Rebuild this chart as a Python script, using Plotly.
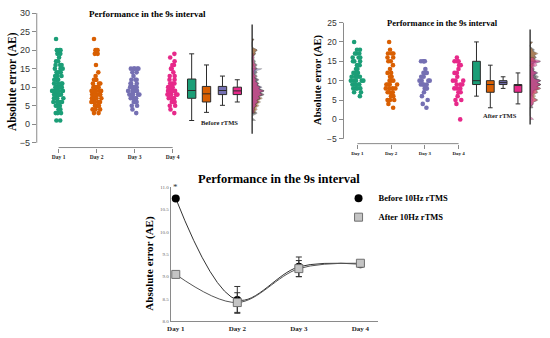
import plotly.graph_objects as go

W, H = 550, 338

days = ["Day 1", "Day 2", "Day 3", "Day 4"]
day_pos = [1, 2, 3, 4]
colors = ["#1B9E77", "#D95F02", "#7570B3", "#E7298A"]

# ---- Before rTMS: individual absolute errors ----
before_day1 = [1, 1, 3, 3, 3, 4, 4, 5, 5, 5, 6, 6, 6, 6, 7, 7, 7, 7, 7, 8, 8, 8, 8, 8, 8,
               9, 9, 9, 9, 9, 9, 9, 10, 10, 10, 10, 10, 11, 11, 11, 11, 12, 12, 12, 12,
               13, 13, 13, 14, 14, 14, 15, 15, 15, 16, 16, 16, 17, 17, 18, 19, 19, 20, 20, 20, 23]
before_day2 = [3, 3, 4, 4, 4, 5, 5, 5, 5, 6, 6, 6, 6, 6, 7, 7, 7, 7, 7, 7, 8, 8, 8, 8, 8, 8, 8,
               9, 9, 9, 9, 9, 9, 10, 10, 10, 10, 10, 11, 11, 11, 12, 12, 12, 13, 14, 16,
               19, 19, 20, 20, 20, 23]
before_day3 = [3, 4, 5, 5, 6, 6, 6, 7, 7, 7, 7, 8, 8, 8, 8, 8, 8, 9, 9, 9, 9, 9, 9,
               10, 10, 10, 10, 10, 11, 11, 11, 12, 12, 12, 13, 14, 14, 15, 15, 15, 15, 15]
before_day4 = [3, 4, 5, 5, 6, 6, 6, 7, 7, 7, 7, 8, 8, 8, 8, 8, 9, 9, 9, 9, 9, 9,
               10, 10, 10, 10, 11, 11, 11, 12, 12, 13, 13, 14, 15, 15, 16, 16, 17, 18, 19]

# ---- After rTMS: individual absolute errors ----
after_day1 = [6, 7, 7, 8, 8, 8, 8, 9, 9, 9, 9, 9, 10, 10, 10, 10, 10, 11, 11, 11, 11,
              12, 12, 12, 13, 13, 14, 14, 15, 15, 15, 16, 16, 16, 17, 17, 17, 18, 18, 20]
after_day2 = [3, 4, 5, 5, 5, 6, 6, 7, 7, 7, 8, 8, 8, 8, 9, 9, 9, 9, 10, 10, 10, 11, 11,
              12, 12, 13, 14, 15, 15, 16, 16, 17, 17, 17, 18, 20]
after_day3 = [3, 4, 5, 6, 7, 8, 8, 8, 9, 9, 9, 9, 10, 10, 10, 10, 11, 11, 12, 12, 12, 13,
              15, 15, 15, 15]
after_day4 = [0, 4, 5, 5, 6, 7, 7, 8, 8, 8, 9, 9, 9, 10, 10, 10, 11, 12, 12, 13, 14, 14,
              15, 15, 15, 16]

# ---- Box summaries (as drawn) ----
before_q1 = [7, 6, 8, 8]
before_median = [9.1, 8.2, 9.1, 9.0]
before_q3 = [12.2, 10.2, 10.2, 10.0]
before_low = [1, 3.2, 5.1, 6]
before_high = [19, 16, 13, 12]

after_q1 = [9, 7, 9, 7]
after_median = [10, 9, 9.5, 9]
after_q3 = [15, 10, 10, 9]
after_low = [6, 3, 8, 4]
after_high = [20, 14, 11, 12]

# ---- Group means (bottom chart) ----
mean_before = [10.75, 8.48, 9.22, 9.28]
mean_after = [9.05, 8.42, 9.18, 9.30]
err_before = [0.03, 0.30, 0.22, 0.03]
err_after = [0.03, 0.22, 0.18, 0.03]

SERIF = "Liberation Serif"
SANS = "Liberation Sans"

fig = go.Figure()


def px_x(p):
    return p / W


def px_y(p):
    return 1 - p / H


def add_panel(xa, ya, data, q1, med, q3, lo, hi, box_x, dens_x, box_w):
    for i, vals in enumerate(data):
        fig.add_trace(go.Box(
            x0=day_pos[i], y=vals, xaxis=xa, yaxis=ya,
            boxpoints="all", jitter=1.0, pointpos=0, width=0.40,
            fillcolor="rgba(0,0,0,0)", line=dict(width=0),
            marker=dict(color=colors[i], size=4.6, opacity=1),
            showlegend=False, hoverinfo="y"))
    for i in range(4):
        fig.add_trace(go.Box(
            x=[box_x[i]], q1=[q1[i]], median=[med[i]], q3=[q3[i]],
            lowerfence=[lo[i]], upperfence=[hi[i]], xaxis=xa, yaxis=ya,
            width=box_w, fillcolor=colors[i], whiskerwidth=0.6,
            line=dict(color="#2b2b2b", width=1), boxpoints=False,
            showlegend=False))
    dens_cols = ["#3a3a3a", "#B8651B", "#7570B3", "#E7298A"]
    for i, vals in enumerate(data):
        fig.add_trace(go.Violin(
            x0=dens_x, y=vals, xaxis=xa, yaxis=ya, side="positive",
            width=0.62, scalegroup="g" + xa, scalemode="width", bandwidth=0.35,
            spanmode="hard",
            points=False, fillcolor=dens_cols[i], opacity=0.5,
            line=dict(color="#222222", width=0.5),
            box=dict(visible=False), meanline=dict(visible=False),
            showlegend=False, hoverinfo="skip"))


add_panel("x", "y", [before_day1, before_day2, before_day3, before_day4],
          before_q1, before_median, before_q3, before_low, before_high,
          [4.50, 4.89, 5.31, 5.70], 6.09, 0.22)
add_panel("x2", "y2", [after_day1, after_day2, after_day3, after_day4],
          after_q1, after_median, after_q3, after_low, after_high,
          [4.53, 4.94, 5.32, 5.76], 6.12, 0.23)

# ---- Bottom chart ----
fig.add_trace(go.Scatter(x=day_pos, y=mean_before, xaxis="x3", yaxis="y3",
                         mode="lines", line=dict(shape="spline", smoothing=1.0, color="#333333", width=1),
                         showlegend=False, hoverinfo="skip"))
fig.add_trace(go.Scatter(x=day_pos, y=mean_after, xaxis="x3", yaxis="y3",
                         mode="lines", line=dict(shape="spline", smoothing=1.0, color="#555555", width=1),
                         showlegend=False, hoverinfo="skip"))
fig.add_trace(go.Scatter(x=day_pos, y=mean_before, xaxis="x3", yaxis="y3",
                         mode="markers", name="Before 10Hz rTMS",
                         marker=dict(symbol="circle", size=8, color="black"),
                         error_y=dict(type="data", array=err_before, color="#333333", thickness=1, width=3)))
fig.add_trace(go.Scatter(x=day_pos, y=mean_after, xaxis="x3", yaxis="y3",
                         mode="markers", name="After 10Hz rTMS",
                         marker=dict(symbol="square", size=8, color="#c4c4c4",
                                     line=dict(color="#707070", width=1)),
                         error_y=dict(type="data", array=err_after, color="#333333", thickness=1, width=3)))

grey = "#8a8a8a"
ytick_font = dict(family=SANS, size=9, color="#333333")
xtick_font_small = dict(family=SERIF, size=5.5, color="#222222", weight="bold")

layout = dict(
    width=W, height=H, margin=dict(l=0, r=0, t=0, b=0), autosize=False,
    paper_bgcolor="white", plot_bgcolor="white",
    boxmode="overlay", violinmode="overlay",
    showlegend=True,
    legend=dict(x=px_x(337), y=px_y(183), xanchor="left", yanchor="top",
                font=dict(family=SERIF, size=8.5, color="black", weight="bold"),
                bgcolor="rgba(0,0,0,0)", itemwidth=30, tracegroupgap=0),
    xaxis=dict(domain=[px_x(33), px_x(275)], range=[0.426, 6.744], anchor="y",
               tickvals=day_pos, ticktext=days, showgrid=False, zeroline=False,
               showline=False, ticks="outside", ticklen=4, tickcolor=grey,
               tickfont=xtick_font_small),
    yaxis=dict(domain=[px_y(146), px_y(8.3)], range=[-6.3, 30], anchor="x",
               tickvals=[-5, 0, 5, 10, 15, 20, 25, 30], showgrid=False, zeroline=False,
               showline=False, ticks="outside", ticklen=4, tickcolor=grey,
               tickfont=ytick_font),
    xaxis2=dict(domain=[px_x(342), px_x(550)], range=[0.588, 6.71], anchor="y2",
                tickvals=day_pos, ticktext=days, showgrid=False, zeroline=False,
                showline=False, ticks="outside", ticklen=4, tickcolor=grey,
                tickfont=dict(family=SERIF, size=5, color="#222222", weight="bold")),
    yaxis2=dict(domain=[px_y(142), px_y(18)], range=[-6.26, 25], anchor="x2",
                tickvals=[-5, 0, 5, 10, 15, 20, 25], showgrid=False, zeroline=False,
                showline=False, ticks="outside", ticklen=4, tickcolor=grey,
                tickfont=dict(family=SANS, size=8.5, color="#333333")),
    xaxis3=dict(domain=[px_x(168), px_x(377)], range=[0.919, 4.29], anchor="y3",
                tickvals=day_pos, ticktext=days, showgrid=False, zeroline=False,
                showline=True, linecolor=grey, linewidth=1, ticks="",
                tickfont=dict(family=SERIF, size=7, color="#222222", weight="bold")),
    yaxis3=dict(domain=[px_y(324), px_y(186.7)], range=[8.0, 11.0], anchor="x3",
                tickvals=[8.0, 8.5, 9.0, 9.5, 10.0, 10.5, 11.0], tickformat=".1f",
                showgrid=False, zeroline=False,
                showline=True, linecolor=grey, linewidth=1, ticks="",
                tickfont=dict(family=SERIF, size=5, color="#666666")),
)
fig.update_layout(**layout)

shapes = [
    dict(type="line", xref="x domain", yref="y", x0=0, x1=0, y0=-5, y1=30, line=dict(color=grey, width=1)),
    dict(type="line", xref="x", yref="y domain", x0=1, x1=4, y0=0, y1=0, line=dict(color=grey, width=1)),
    dict(type="line", xref="x", yref="y", x0=6.09, x1=6.09, y0=-2.6, y1=26.9, line=dict(color="#111111", width=1.2)),
    dict(type="line", xref="x2 domain", yref="y2", x0=0, x1=0, y0=-5, y1=25, line=dict(color=grey, width=1)),
    dict(type="line", xref="x2", yref="y2 domain", x0=1, x1=4, y0=0, y1=0, line=dict(color=grey, width=1)),
    dict(type="line", xref="x2", yref="y2", x0=6.12, x1=6.12, y0=-1.3, y1=23.2, line=dict(color="#111111", width=1.2)),
]
fig.update_layout(shapes=shapes)

title_text = "Performance in the 9s interval"
ylab = "Absolute error (AE)"
C = dict(xanchor="center", yanchor="middle", showarrow=False)
ann = [
    dict(text=title_text, x=px_x(145), y=px_y(9), xref="paper", yref="paper", **C,
         font=dict(family=SERIF, size=9, color="black", weight="bold")),
    dict(text=title_text, x=px_x(442), y=px_y(18), xref="paper", yref="paper", **C,
         font=dict(family=SERIF, size=8.5, color="black", weight="bold")),
    dict(text=title_text, x=px_x(277), y=px_y(178), xref="paper", yref="paper", **C,
         font=dict(family=SERIF, size=12.5, color="black", weight="bold")),
    dict(text=ylab, x=px_x(8), y=px_y(78), xref="paper", yref="paper", **C, textangle=-90,
         font=dict(family=SERIF, size=11.5, color="black", weight="bold")),
    dict(text=ylab, x=px_x(317), y=px_y(76), xref="paper", yref="paper", **C, textangle=-90,
         font=dict(family=SERIF, size=10.5, color="black", weight="bold")),
    dict(text=ylab, x=px_x(147), y=px_y(264), xref="paper", yref="paper", **C, textangle=-90,
         font=dict(family=SERIF, size=11, color="black", weight="bold")),
    dict(text="Before rTMS", x=5.23, y=0.5, xref="x", yref="y", **C,
         font=dict(family=SERIF, size=6.5, color="#222222", weight="bold")),
    dict(text="After rTMS", x=5.24, y=1.0, xref="x2", yref="y2", **C,
         font=dict(family=SERIF, size=6.5, color="#222222", weight="bold")),
    dict(text="*", x=day_pos[0], y=mean_before[0], xref="x3", yref="y3", **C, yshift=11,
         font=dict(family=SERIF, size=9, color="#333333")),
]
fig.update_layout(annotations=ann)

fig.write_html("out.html", config={"displayModeBar": False},
               post_script="document.body.style.margin='0';document.body.style.overflow='hidden';")
